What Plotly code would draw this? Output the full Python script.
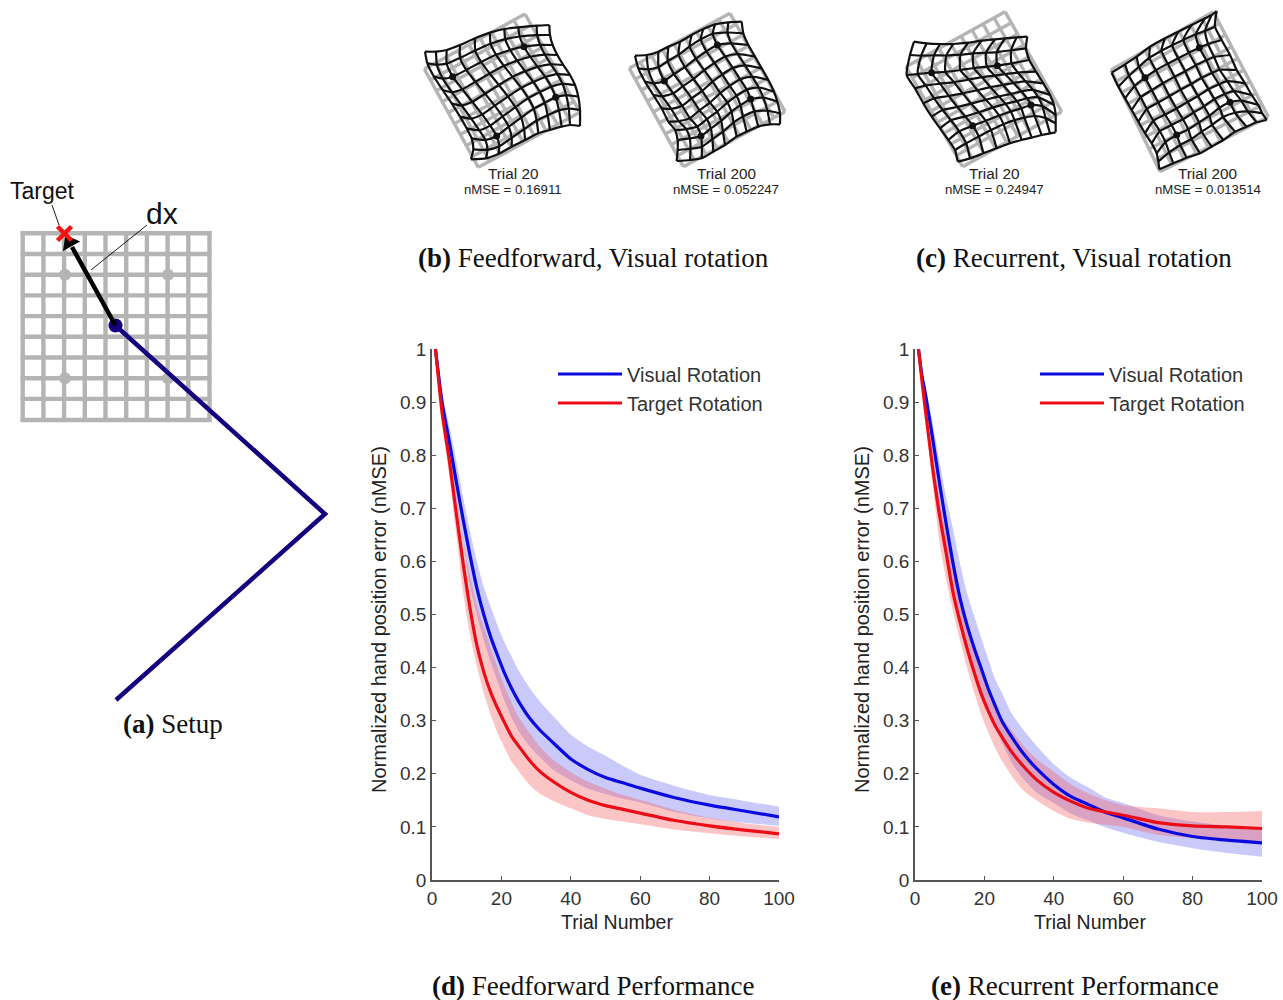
import math
import plotly.graph_objects as go

# ---------- learning-curve data ----------
trials = [1,2,3,5,7,9,11,13,15,17,19,21,23,25,28,31,35,40,45,50,55,60,70,80,90,100]

d_blue = [1,.945,.895,.825,.75,.678,.61,.548,.498,.456,.421,.388,.36,.336,.306,.283,.258,.228,.208,.193,.183,.173,.155,.141,.13,.119]
d_blue_hi = [1,.955,.915,.855,.79,.72,.655,.598,.55,.513,.477,.446,.42,.394,.363,.337,.308,.274,.251,.234,.215,.198,.177,.16,.149,.138]
d_blue_lo = [1,.94,.88,.80,.715,.637,.553,.497,.45,.408,.372,.335,.305,.28,.253,.232,.207,.188,.172,.162,.153,.146,.128,.116,.108,.102]
d_red = [1,.935,.875,.79,.69,.595,.51,.44,.39,.352,.322,.295,.27,.252,.226,.205,.185,.165,.15,.14,.133,.126,.112,.102,.094,.087]
d_red_hi = [1,.945,.895,.815,.725,.64,.572,.515,.475,.435,.398,.363,.333,.306,.278,.252,.226,.203,.185,.172,.16,.151,.132,.117,.107,.10]
d_red_lo = [1,.93,.86,.76,.65,.54,.46,.40,.35,.31,.275,.248,.222,.205,.18,.163,.149,.135,.122,.115,.11,.105,.095,.088,.082,.077]

e_blue = [1,.95,.915,.835,.75,.67,.595,.53,.48,.438,.40,.362,.33,.30,.268,.24,.21,.18,.157,.142,.127,.117,.096,.082,.075,.07]
e_blue_hi = [1,.96,.93,.865,.79,.72,.66,.595,.54,.498,.458,.418,.38,.353,.312,.285,.253,.218,.192,.174,.155,.145,.122,.11,.102,.098]
e_blue_lo = [1,.945,.90,.805,.70,.625,.55,.49,.445,.40,.358,.322,.29,.26,.22,.192,.165,.145,.125,.112,.099,.089,.072,.06,.051,.044]
e_red = [1,.94,.885,.78,.69,.615,.54,.485,.436,.392,.352,.32,.292,.27,.24,.216,.189,.165,.148,.135,.128,.122,.108,.102,.10,.097]
e_red_hi = [1,.95,.90,.81,.72,.65,.585,.53,.478,.438,.40,.358,.33,.305,.28,.255,.228,.204,.18,.163,.15,.141,.135,.128,.128,.13]
e_red_lo = [1,.935,.87,.75,.64,.565,.505,.45,.40,.355,.313,.28,.25,.225,.195,.17,.15,.13,.115,.108,.104,.10,.085,.079,.075,.072]

x_ticks = [0,20,40,60,80,100]
y_ticks = [0,.1,.2,.3,.4,.5,.6,.7,.8,.9,1]
y_labels = ["0","0.1","0.2","0.3","0.4","0.5","0.6","0.7","0.8","0.9","1"]
series_names = ["Visual Rotation","Target Rotation"]

# ---------- warped-grid outlines (3x crop coordinates) ----------
g1_top = [(45,155),(78,155),(110,150),(150,135),(195,115),(240,98),(283,87),(325,82),(380,77),(418,75)]
g1_right = [(418,75),(420,105),(428,135),(442,165),(460,195),(480,225),(495,255),(505,290),(510,330),(510,378)]
g1_bottom = [(183,478),(228,475),(265,462),(305,440),(345,420),(385,400),(420,390),(455,380),(480,375),(510,378)]
g1_left = [(45,155),(52,190),(72,230),(98,270),(125,310),(150,350),(170,385),(185,415),(190,448),(183,478)]
g1_dots = [(128,230),(342,140),(437,292),(260,408)]
g1_gray = [(43,207),(345,42),(510,337),(205,502)]

g2_top = [(675,167),(710,165),(745,155),(775,140),(810,125),(845,105),(880,87),(915,73),(955,67),(995,65)]
g2_right = [(995,65),(1000,100),(1015,135),(1035,170),(1055,205),(1075,240),(1092,275),(1102,305),(1110,340),(1110,373)]
g2_bottom = [(800,483),(840,480),(875,475),(910,455),(945,435),(980,410),(1010,395),(1045,380),(1080,373),(1110,373)]
g2_left = [(675,167),(685,205),(705,245),(730,285),(755,325),(775,365),(795,390),(803,420),(803,450),(800,483)]
g2_dots = [(763,243),(922,135),(1022,297),(873,408)]
g2_gray = [(658,205),(960,40),(1125,335),(820,500)]

g3_top = [(72,125),(110,130),(150,132),(190,132),(235,128),(275,122),(315,118),(345,115),(380,112),(412,110)]
g3_right = [(412,110),(408,145),(418,180),(438,215),(460,250),(480,285),(492,315),(497,345),(497,370),(497,397)]
g3_bottom = [(203,485),(240,475),(280,460),(320,445),(360,430),(395,420),(425,413),(455,405),(480,400),(497,397)]
g3_left = [(72,125),(60,165),(50,225),(75,265),(100,310),(125,350),(150,385),(175,420),(195,450),(203,485)]
g3_dots = [(125,218),(322,197),(423,315),(248,377)]
g3_gray = [(48,200),(345,35),(515,335),(218,500)]

g4_top = [(665,218),(705,193),(740,170),(780,140),(825,115),(865,95),(905,75),(945,55),(965,45),(980,33)]
g4_right = [(980,33),(975,80),(995,120),(1020,165),(1040,210),(1065,250),(1085,285),(1105,315),(1117,340),(1130,360)]
g4_bottom = [(808,508),(850,490),(890,473),(930,460),(965,440),(1000,420),(1035,395),(1070,380),(1100,367),(1130,360)]
g4_left = [(665,218),(685,260),(705,295),(725,330),(745,365),(765,400),(785,430),(800,460),(805,485),(808,508)]
g4_dots = [(765,233),(928,143),(1020,307),(860,405)]
g4_gray = [(663,210),(970,35),(1135,350),(810,515)]

# ---------- setup panel ----------
setup_cols = [22.7,43.4,64.1,84.8,105.5,126.2,146.9,167.6,188.3,209.5]
setup_rows = [233.3,254,274.7,295.4,316.1,336.8,357.5,378.2,398.9,420]
setup_dots = [(65,274.7),(168,274.7),(65,378.2),(168,378.2)]
arm = [(115.5,325.5),(325,514),(116,700)]
arrow = [(115.5,325.5),(72,247)]
arrow_tip = (69.5,242.5)
target = (64.5,233.5)

page_texts = [
    ("Trial 20",512.5,173,15.3),("nMSE = 0.16911",512.5,189,13.2),
    ("Trial 200",726,173,15.3),("nMSE = 0.052247",726,189,13.2),
    ("Trial 20",994,173,15.3),("nMSE = 0.24947",994,189,13.2),
    ("Trial 200",1207.5,173,15.3),("nMSE = 0.013514",1207.5,189,13.2),
    ("Target",42.5,191,23),("dx",162,213,30),
    ("Trial Number",617,922,19.5),("Trial Number",1090,922,19.5),
]
y_title = "Normalized hand position error (nMSE)"
captions = [
    ("<b>(a)</b> Setup",173,724),
    ("<b>(b)</b> Feedforward, Visual rotation",593,258),
    ("<b>(c)</b> Recurrent, Visual rotation",1074,258),
    ("<b>(d)</b> Feedforward Performance",592.5,986),
    ("<b>(e)</b> Recurrent Performance",1074.5,986),
]

W, H = 1283, 1000
BLUE, RED = "#0a0ade", "#ea0d17"
BLUE_F, RED_F = "rgba(100,100,240,0.35)", "rgba(245,90,90,0.35)"
GRAY = "#b4b4b4"
ARM = "#17007f"
SANS = "Liberation Sans"
SERIF = "Liberation Serif"

fig = go.Figure()
PG = dict(xaxis="x3", yaxis="y3", showlegend=False, hoverinfo="skip")

def seg_trace(segs, color, width, smooth=False):
    xs, ys = [], []
    for s in segs:
        xs += [p[0] for p in s] + [None]
        ys += [p[1] for p in s] + [None]
    return go.Scatter(x=xs, y=ys, mode="lines", connectgaps=False,
                      line=dict(color=color, width=width, shape="spline" if smooth else "linear", smoothing=0.6), **PG)

# setup
segs = [[(c, setup_rows[0]-2), (c, setup_rows[-1]+2)] for c in setup_cols]
segs += [[(setup_cols[0]-2, r), (setup_cols[-1]+2, r)] for r in setup_rows]
fig.add_trace(seg_trace(segs, GRAY, 4.4))
fig.add_trace(go.Scatter(x=[p[0] for p in setup_dots], y=[p[1] for p in setup_dots], mode="markers",
                         marker=dict(color=GRAY, size=12), **PG))
fig.add_trace(seg_trace([arm], ARM, 4.5))
fig.add_trace(go.Scatter(x=[arm[0][0]], y=[arm[0][1]], mode="markers", marker=dict(color=ARM, size=14), **PG))
fig.add_trace(seg_trace([arrow], "black", 4.5))
fig.add_trace(go.Scatter(x=[arrow_tip[0]], y=[arrow_tip[1]], mode="markers",
                         marker=dict(symbol="triangle-up", angle=-29, color="black", size=17), **PG))
fig.add_trace(go.Scatter(x=[target[0]], y=[target[1]], mode="markers",
                         marker=dict(symbol="x-thin", size=14, line=dict(color="#fa1010", width=4.5)), **PG))
fig.add_trace(seg_trace([[(52,205),(59,225)], [(147,225),(91,270)]], "black", 0.9))

# warped grids
def conv(pts, ox):
    return [(ox + p[0]/3, p[1]/3) for p in pts]

def draw_grid(top, right, bottom, left, dots, gray, ox):
    top, right, bottom, left = conv(top, ox), conv(right, ox), conv(bottom, ox), conv(left, ox)
    dots, gray = conv(dots, ox), conv(gray, ox)
    n = 9
    (a, b, c, d) = gray
    def g(u, v):
        return tuple((1-u)*(1-v)*a[k] + u*(1-v)*b[k] + u*v*c[k] + (1-u)*v*d[k] for k in (0, 1))
    gs = [[g(i/n, 0), g(i/n, 1)] for i in range(n+1)] + [[g(0, j/n), g(1, j/n)] for j in range(n+1)]
    fig.add_trace(seg_trace(gs, GRAY, 3.4))
    def coons(i, j):
        u, v = i/n, j/n
        out = []
        for k in (0, 1):
            out.append((1-v)*top[i][k] + v*bottom[i][k] + (1-u)*left[j][k] + u*right[j][k]
                       - ((1-u)*(1-v)*top[0][k] + u*(1-v)*top[n][k] + (1-u)*v*bottom[0][k] + u*v*bottom[n][k]))
        return out
    nodes = [(2, 2), (7, 2), (7, 7), (2, 7)]
    res = []
    for (i, j), dot in zip(nodes, dots):
        c0 = coons(i, j)
        res.append((dot[0]-c0[0], dot[1]-c0[1]))
    def node(i, j):
        c0 = coons(i, j)
        u, v = i/n, j/n
        s = (u-2/9)/(5/9); t = (v-2/9)/(5/9)
        s = min(max(s, 0), 1); t = min(max(t, 0), 1)
        raw = min(1, math.sin(math.pi*u)*math.sin(math.pi*v)/math.sin(2*math.pi/9)**2)
        w = 1-(1-raw)**2
        return (c0[0] + w*((1-s)*(1-t)*res[0][0] + s*(1-t)*res[1][0] + s*t*res[2][0] + (1-s)*t*res[3][0]),
                c0[1] + w*((1-s)*(1-t)*res[0][1] + s*(1-t)*res[1][1] + s*t*res[2][1] + (1-s)*t*res[3][1]))
    ws = [[node(i, j) for j in range(n+1)] for i in range(n+1)]
    ws += [[node(i, j) for i in range(n+1)] for j in range(n+1)]
    fig.add_trace(seg_trace(ws, "#111111", 2.2, smooth=True))
    fig.add_trace(go.Scatter(x=[p[0] for p in dots], y=[p[1] for p in dots], mode="markers",
                             marker=dict(color="#111111", size=7), **PG))

draw_grid(g1_top, g1_right, g1_bottom, g1_left, g1_dots, g1_gray, 410)
draw_grid(g2_top, g2_right, g2_bottom, g2_left, g2_dots, g2_gray, 410)
draw_grid(g3_top, g3_right, g3_bottom, g3_left, g3_dots, g3_gray, 890)
draw_grid(g4_top, g4_right, g4_bottom, g4_left, g4_dots, g4_gray, 890)

# charts
def band(xa, ya, hi, lo, col):
    common = dict(x=trials, mode="lines", line=dict(width=0, shape="spline", smoothing=0.7),
                  xaxis=xa, yaxis=ya, showlegend=False, hoverinfo="skip")
    fig.add_trace(go.Scatter(y=hi, **common))
    fig.add_trace(go.Scatter(y=lo, fill="tonexty", fillcolor=col, **common))

def curve(xa, ya, vals, col, name, leg):
    fig.add_trace(go.Scatter(x=trials, y=vals, mode="lines", name=name,
                             line=dict(color=col, width=3.2, shape="spline", smoothing=0.7),
                             xaxis=xa, yaxis=ya, legend=leg, showlegend=True))

band("x", "y", d_blue_hi, d_blue_lo, BLUE_F)
band("x", "y", d_red_hi, d_red_lo, RED_F)
curve("x", "y", d_blue, BLUE, series_names[0], "legend")
curve("x", "y", d_red, RED, series_names[1], "legend")
band("x2", "y2", e_blue_hi, e_blue_lo, BLUE_F)
band("x2", "y2", e_red_hi, e_red_lo, RED_F)
curve("x2", "y2", e_blue, BLUE, series_names[0], "legend2")
curve("x2", "y2", e_red, RED, series_names[1], "legend2")

def px_x(a, b): return [a/W, b/W]
def px_y(top, bot): return [1-bot/H, 1-top/H]

ax_x = dict(range=[0, 100], tickvals=x_ticks, ticktext=[str(v) for v in x_ticks], ticks="inside", ticklen=4,
            tickcolor="#555", showline=True, linecolor="#555", linewidth=1.5, showgrid=False, zeroline=False,
            tickfont=dict(family=SANS, size=19, color="#333"))
ax_y = dict(range=[0, 1], tickvals=y_ticks, ticktext=y_labels, ticks="inside", ticklen=4,
            tickcolor="#555", showline=True, linecolor="#555", linewidth=1.5, showgrid=False, zeroline=False,
            tickfont=dict(family=SANS, size=19, color="#333"))

ann = []
def page_ann(text, x, y, size, fam=SANS, col="#222", rot=0):
    ann.append(dict(text=text, x=x, y=y, xref="x3", yref="y3", showarrow=False, xanchor="center", yanchor="middle",
                    textangle=rot, font=dict(family=fam, size=size, color=col)))
for t, x, y, s in page_texts:
    page_ann(t, x, y, s, col="#111" if s > 20 else "#222")
for x in (379, 862):
    page_ann(y_title, x, 620, 20, rot=-90)
for t, x, y in captions:
    page_ann(t, x, y, 27, fam=SERIF, col="#111")

leg = dict(bgcolor="rgba(0,0,0,0)", itemwidth=64, font=dict(family=SANS, size=20, color="#333"), xanchor="left",
           yanchor="top", traceorder="normal", tracegroupgap=0, itemclick=False, itemdoubleclick=False)

fig.update_layout(
    width=W, height=H, margin=dict(l=0, r=0, t=0, b=0, autoexpand=False), paper_bgcolor="white",
    plot_bgcolor="rgba(0,0,0,0)",
    xaxis=dict(domain=px_x(432, 779), anchor="y", **ax_x),
    yaxis=dict(domain=px_y(349, 880), anchor="x", **ax_y),
    xaxis2=dict(domain=px_x(915, 1262), anchor="y2", **ax_x),
    yaxis2=dict(domain=px_y(349, 880), anchor="x2", **ax_y),
    xaxis3=dict(domain=[0, 1], range=[0, W], visible=False, anchor="y3", fixedrange=True),
    yaxis3=dict(domain=[0, 1], range=[H, 0], visible=False, anchor="x3", fixedrange=True),
    legend=dict(x=553/W, y=1-354.5/H, **leg),
    legend2=dict(x=1035/W, y=1-354.5/H, **leg),
    annotations=ann,
)
fig.write_html("out.html", post_script="document.body.style.margin='0';", config=dict(displayModeBar=False))
